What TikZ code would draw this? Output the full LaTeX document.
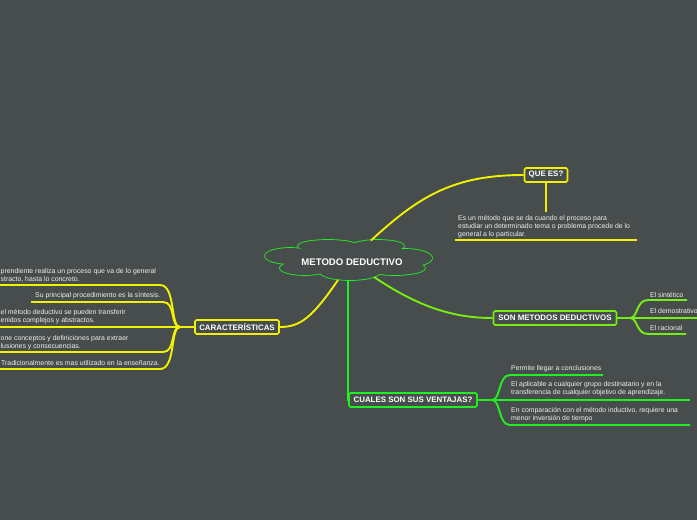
\documentclass[tikz,border=0pt]{standalone}
\usepackage{fontspec}
\setmainfont{Liberation Sans}
\definecolor{bg}{HTML}{474C4C}
\definecolor{yel}{HTML}{F2F200}
\definecolor{grn}{HTML}{22EE22}
\definecolor{lime}{HTML}{77EE11}
\definecolor{txt}{HTML}{F0F0F0}
\tikzset{
  topic/.style={draw, line width=1.7pt, fill=bg, rounded corners=1.5pt, text=white,
    font=\bfseries\fontsize{7.9}{9}\selectfont, inner sep=0pt, minimum height=14pt},
  leaf/.style={text=txt, font=\fontsize{6.9}{8}\selectfont, align=left, inner sep=0pt, anchor=west},
  conn/.style={line width=1.9pt},
  lobe/.style={line width=1.7pt},
}
\begin{document}
\begin{tikzpicture}[x=1pt,y=-1pt]
\fill[bg] (0,0) rectangle (697,520);
\useasboundingbox (0,0) rectangle (697,520);

% cloud outline (union of ellipses)
\foreach \cx/\cy/\rx/\ry in {290/256/25/8, 328/246/30/6, 378/246/26/6, 405/258/27/9, 305/268/25/7, 350/272/30/8, 395/268/30/7}
  \draw[grn,lobe] (\cx,\cy) ellipse ({\rx pt} and {\ry pt});
\foreach \cx/\cy/\rx/\ry in {290/256/25/8, 328/246/30/6, 378/246/26/6, 405/258/27/9, 305/268/25/7, 350/272/30/8, 395/268/30/7, 348/260/62/13}
  \fill[bg] (\cx,\cy) ellipse ({\rx pt} and {\ry pt});
\node[text=white, font=\bfseries\fontsize{9.6}{11}\selectfont, inner sep=0pt] (cloud) at (352,262) {METODO DEDUCTIVO};
\coordinate (cq) at (371,240.5);
\coordinate (cc) at (338,280);
\coordinate (cs) at (374,277);
\coordinate (cb) at (348,280);

% topic nodes
\node[topic, draw=yel, minimum width=43pt] (quees) at (546,175) {QUE ES?};
\node[topic, draw=yel, minimum width=84pt] (carac) at (237,327) {CARACTERÍSTICAS};
\node[topic, draw=lime, minimum width=123pt] (son) at (555,318) {SON METODOS DEDUCTIVOS};
\node[topic, draw=grn, minimum width=128pt] (cuales) at (413,400) {CUALES SON SUS VENTAJAS?};

% junctions
\coordinate (jq) at (546,212);
\coordinate (jc) at (180,327);
\coordinate (js) at (630,318);
\coordinate (jv) at (492,400);
\coordinate (ec3) at (0,327);
\coordinate (es2) at (697,318);
\coordinate (ev2) at (690,400);

% main branches
\draw[conn,yel] (cq) .. controls (420,195) and (455,175) .. (quees.west);
\draw[conn,yel] (cc) .. controls (312,318) and (300,327) .. (carac.east);
\draw[conn,lime] (cs) .. controls (420,308) and (455,318) .. (son.west);
\draw[conn,grn] (cb) |- (cuales.west);

% QUE ES
\draw[conn,yel] (quees.south) -- (jq);
\draw[conn,yel] (455,240) -- (637,240);

% CARACTERISTICAS
\draw[conn,yel] (carac.west) -- (jc) -- (ec3);
\draw[conn,yel] (jc) .. controls (170,327) and (176,285) .. (160,285) -- (0,285);
\draw[conn,yel] (jc) .. controls (170,327) and (176,302) .. (163,302) -- (31,302);
\draw[conn,yel] (jc) .. controls (170,327) and (176,352) .. (163,352) -- (0,352);
\draw[conn,yel] (jc) .. controls (170,327) and (176,369) .. (160,369) -- (0,369);

% SON METODOS
\draw[conn,lime] (son.east) -- (js) -- (es2);
\draw[conn,lime] (js) .. controls (638,318) and (636,300) .. (648,300) -- (687,300);
\draw[conn,lime] (js) .. controls (638,318) and (636,334) .. (648,334) -- (686,334);

% CUALES
\draw[conn,grn] (cuales.east) -- (jv) -- (ev2);
\draw[conn,grn] (jv) .. controls (501,400) and (498,375) .. (510,375) -- (603,375);
\draw[conn,grn] (jv) .. controls (501,400) and (498,425) .. (510,425) -- (690,425);

% leaf texts
\node[leaf] (tq) at (458,226.5) {Es un método que se da cuando el proceso para\\estudiar un determinado tema o problema procede de lo\\general a lo particular.};

\node[leaf] (c1) at (0.5,275) {prendiente realiza un proceso que va de lo general\\stracto, hasta lo concreto.};
\node[leaf] (c2) at (35,296) {Su principal procedimiento es la síntesis.};
\node[leaf] (c3) at (0.5,317) {el método deductivo se pueden transferir\\enidos complejos y abstractos.};
\node[leaf] (c4) at (0.5,342.5) {one conceptos y definiciones para extraer\\lusiones y consecuencias.};
\node[leaf] (c5) at (1,363.5) {Tradicionalmente es mas utilizado en la enseñanza.};

\node[leaf] (s1) at (650,294.5) {El sintético};
\node[leaf] (s2) at (650,311.5) {El demostrativo};
\node[leaf] (s3) at (650,328.5) {El racional};

\node[leaf] (v1) at (511,368.5) {Permite llegar a conclusiones};
\node[leaf] (v2) at (511,389) {El aplicable a cualquier grupo destinatario y en la\\transferencia de cualquier objetivo de aprendizaje.};
\node[leaf] (v3) at (511,414.5) {En comparación con el método inductivo, requiere una\\menor inversión de tiempo};
\end{tikzpicture}
\end{document}
